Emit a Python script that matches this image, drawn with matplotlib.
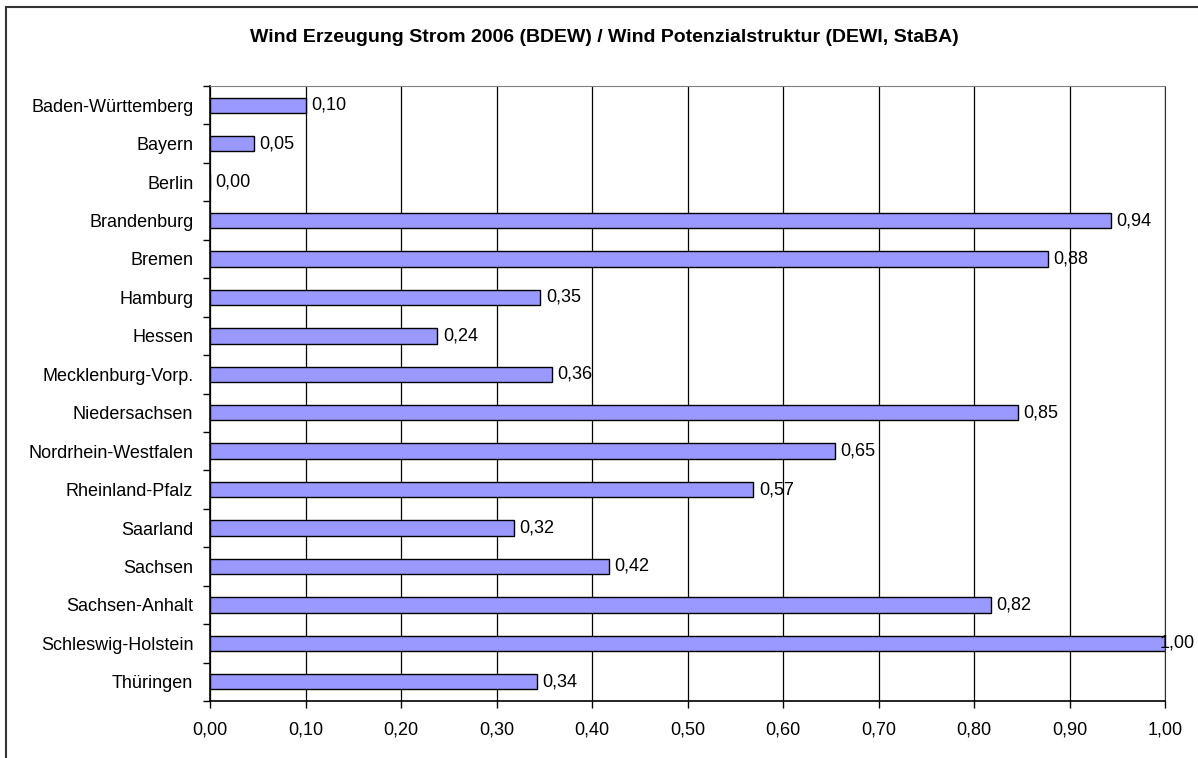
import matplotlib.pyplot as plt
from matplotlib.patches import Rectangle
from matplotlib.ticker import MultipleLocator, FuncFormatter

laender = ["Baden-Württemberg", "Bayern", "Berlin", "Brandenburg", "Bremen",
           "Hamburg", "Hessen", "Mecklenburg-Vorp.", "Niedersachsen",
           "Nordrhein-Westfalen", "Rheinland-Pfalz", "Saarland", "Sachsen",
           "Sachsen-Anhalt", "Schleswig-Holstein", "Thüringen"]
werte = [0.10, 0.046, 0.0, 0.943, 0.877, 0.346, 0.238, 0.358, 0.846,
         0.654, 0.569, 0.318, 0.418, 0.818, 1.00, 0.342]
titel = "Wind Erzeugung Strom 2006 (BDEW) / Wind Potenzialstruktur (DEWI, StaBA)"

plt.rcParams['font.family'] = ['Liberation Sans', 'DejaVu Sans']

W, H = 1198, 758
fig = plt.figure(figsize=(W / 100, H / 100), dpi=100)
fig.patch.set_facecolor('white')

# outer chart frame (cut at right/bottom like the original)
fig.patches.append(Rectangle((6 / W, -0.05), 1.2, 1 - 7 / H + 0.05,
                             transform=fig.transFigure, fill=False,
                             edgecolor='#333333', linewidth=1.5))

ax = fig.add_axes([210 / W, 1 - 701 / H, (1165 - 210) / W, (701 - 86) / H])

pos = list(range(len(laender)))
ax.barh(pos, werte, height=0.4, color='#9999FF', edgecolor='black',
        linewidth=1.0, zorder=3)
for p, v in zip(pos, werte):
    # the label at the right edge sits over the bar end, as in the original
    dx = 4 if v < 0.99 else -4
    ax.annotate(f"{v:.2f}".replace('.', ','), (v, p), xytext=(dx, 0),
                textcoords='offset points', va='center', ha='left',
                fontsize=13, zorder=4, annotation_clip=False)

ax.set_xlim(0, 1.0)
ax.set_ylim(len(laender) - 0.5, -0.5)
ax.xaxis.set_major_locator(MultipleLocator(0.1))
ax.xaxis.set_major_formatter(FuncFormatter(lambda x, _: f"{x:.2f}".replace('.', ',')))
ax.grid(axis='x', color='black', linewidth=0.9, zorder=0)

ax.set_yticks(pos)
ax.set_yticklabels(laender)
ax.set_yticks([p + 0.5 for p in pos[:-1]] + [-0.5, len(laender) - 0.5], minor=True)
ax.tick_params(axis='y', which='major', length=0, pad=12, labelsize=13)
ax.tick_params(axis='y', which='minor', length=5, width=1, direction='out')
ax.tick_params(axis='x', which='major', length=5, width=1, direction='out',
               pad=10, labelsize=13)

for s in ['left', 'bottom']:
    ax.spines[s].set_color('black')
    ax.spines[s].set_linewidth(1.2)
ax.spines['top'].set_color('#808080')
ax.spines['right'].set_color('#333333')

fig.text(604 / W, 1 - 38 / H, titel, ha='center', va='center',
         fontsize=14, fontweight='bold')

fig.savefig('out.png', dpi=100)
